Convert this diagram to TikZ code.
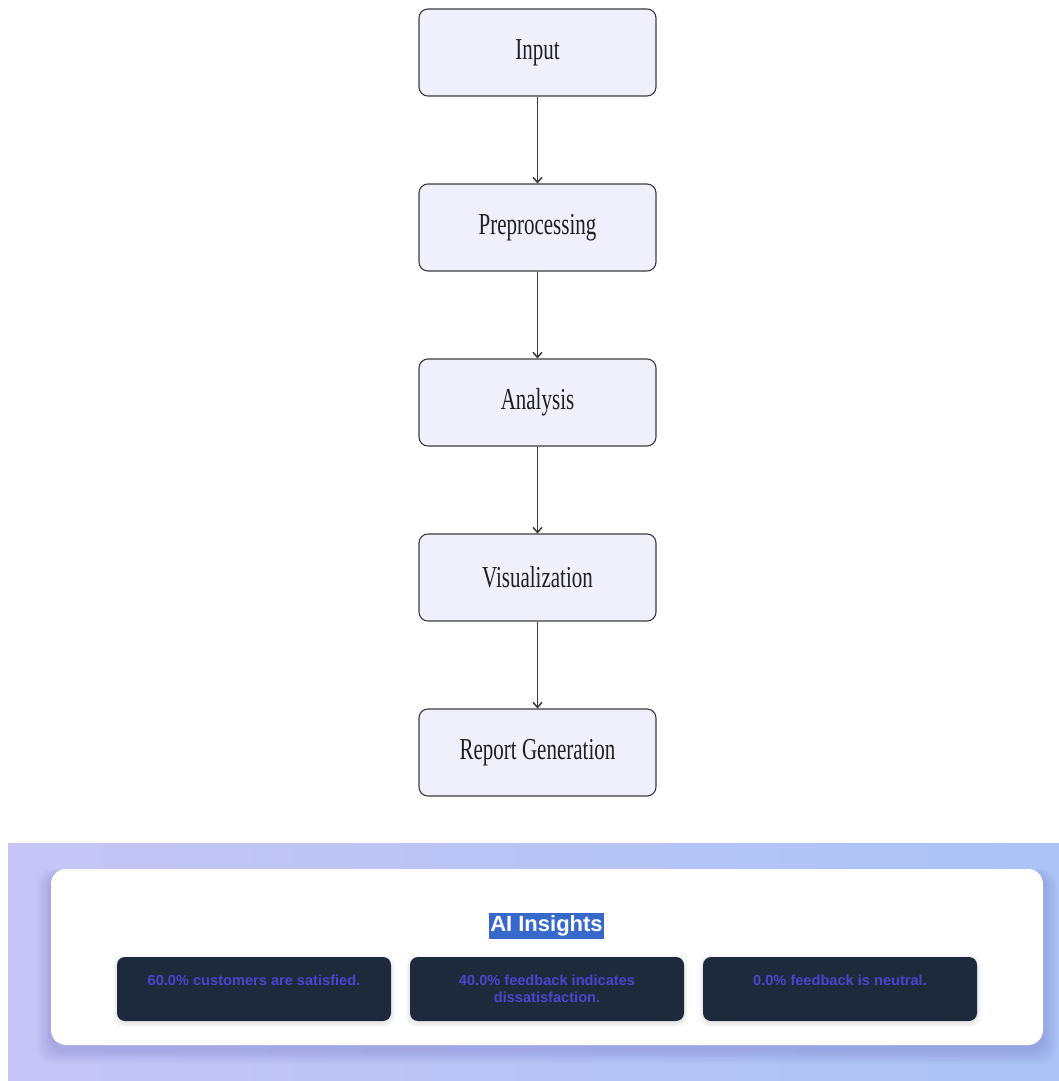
\documentclass[tikz,border=0pt]{standalone}
\usepackage{fontspec}
\usepackage{graphicx}
\setmainfont{Liberation Serif}
\newfontfamily\sansf{Liberation Sans}
\usetikzlibrary{arrows.meta}
\definecolor{boxfill}{RGB}{240,240,252}
\definecolor{boxline}{RGB}{60,60,60}
\definecolor{gradL}{RGB}{199,197,247}
\definecolor{gradR}{RGB}{171,195,245}
\definecolor{cardfill}{RGB}{30,41,59}
\definecolor{cardtext}{RGB}{76,68,205}
\definecolor{titlebg}{RGB}{55,105,205}
\tikzset{
  flowbox/.style={draw=boxline, line width=1.1pt, fill=boxfill, rounded corners=9pt,
    minimum width=237pt, minimum height=87pt, inner sep=0pt,
    font=\fontsize{21}{25}\selectfont, text=black!88},
  flowarrow/.style={draw=black!78, line width=1.5pt, -{Straight Barb[length=5pt,width=9pt]}},
  insight/.style={fill=cardfill, rounded corners=8pt, minimum width=274pt, minimum height=64pt, inner sep=0pt},
  insighttext/.style={anchor=north, inner sep=0pt, align=center, text=cardtext,
    font=\sansf\bfseries\fontsize{14.6}{17}\selectfont},
}
\newcommand{\stretchtxt}[1]{\scalebox{1}[1.45]{#1}}
\begin{document}
\begin{tikzpicture}[x=1pt,y=-1pt]
\useasboundingbox (0,0) rectangle (1059,1081);
\fill[white] (0,0) rectangle (1059,1081);
% flowchart
\node[flowbox] (input) at (537.5,52.5) {\stretchtxt{Input}};
\node[flowbox] (pre) at (537.5,227.5) {\stretchtxt{Preprocessing}};
\node[flowbox] (ana) at (537.5,402.5) {\stretchtxt{Analysis}};
\node[flowbox] (vis) at (537.5,577.5) {\stretchtxt{Visualization}};
\node[flowbox] (rep) at (537.5,752.5) {\stretchtxt{Report Generation}};
\draw[flowarrow] (input) -- (pre);
\draw[flowarrow] (pre) -- (ana);
\draw[flowarrow] (ana) -- (vis);
\draw[flowarrow] (vis) -- (rep);
% insights panel background
\shade[left color=gradL, right color=gradR] (8,843) rectangle (1059,1081);
% soft shadow
\foreach \i in {2,4,...,20}{
  \fill[black!60!blue, opacity=0.011, rounded corners=16pt] (51-\i*0.7,869+6-\i*0.3) rectangle (1043+\i*0.7,1045+5+\i*0.7);
}
\fill[white, rounded corners=15pt] (51,869) rectangle (1043,1045);
\node[fill=titlebg, text=white, inner xsep=1pt, inner ysep=0pt, minimum height=26pt,
  font=\sansf\bfseries\fontsize{22}{24}\selectfont] (title) at (546.5,925.5) {AI Insights};
% cards
\foreach \i in {1,...,4}{
  \fill[black, opacity=0.02, rounded corners=10pt] (117-\i,957-\i+2) rectangle (391+\i,1021+\i+2);
  \fill[black, opacity=0.02, rounded corners=10pt] (410-\i,957-\i+2) rectangle (684+\i,1021+\i+2);
  \fill[black, opacity=0.02, rounded corners=10pt] (703-\i,957-\i+2) rectangle (977+\i,1021+\i+2);
}
\node[insight] (c1) at (254,989) {};
\node[insight] (c2) at (547,989) {};
\node[insight] (c3) at (840,989) {};
\node[insighttext] (t1) at ([yshift=-17.5pt]c1.north) {60.0\% customers are satisfied.};
\node[insighttext] (t2) at ([yshift=-17.5pt]c2.north) {40.0\% feedback indicates\\dissatisfaction.};
\node[insighttext] (t3) at ([yshift=-17.5pt]c3.north) {0.0\% feedback is neutral.};
\end{tikzpicture}
\end{document}
